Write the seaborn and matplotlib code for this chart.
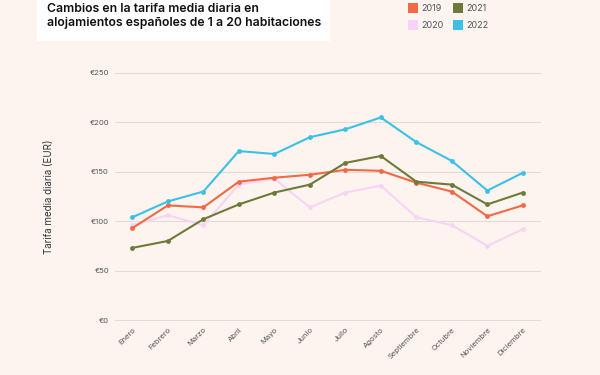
import pandas as pd
import numpy as np
import seaborn as sns
import matplotlib.pyplot as plt
from matplotlib.patches import Rectangle
from matplotlib.lines import Line2D

# Data (average daily rate, EUR)
months = ["Enero", "Febrero", "Marzo", "Abril", "Mayo", "Junio", "Julio",
          "Agosto", "Septiembre", "Octubre", "Noviembre", "Diciembre"]
rate_2019 = [93, 116, 114, 140, 144, 147, 152, 151, 139, 130, 105, 116]
rate_2020 = [96, 106, 96, 137, 143, 114, 129, 136, 104, 96, 75, 92]
rate_2021 = [73, 80, 102, 117, 129, 137, 159, 166, 140, 137, 117, 129]
rate_2022 = [104, 120, 130, 171, 168, 185, 193, 205, 180, 161, 131, 149]
years = ["2019", "2020", "2021", "2022"]
y_ticks = [0, 50, 100, 150, 200, 250]

colors = {"2019": "#F26A45", "2020": "#F7D4F5", "2021": "#6E7A3A", "2022": "#3CC0E6"}
bg = "#FDF4EF"

# long-form table for seaborn
frames = []
for yr, vals in zip(years, [rate_2019, rate_2020, rate_2021, rate_2022]):
    frames.append(pd.DataFrame({"Mes": months, "idx": range(12), "Tarifa": vals, "Año": yr}))
data = pd.concat(frames, ignore_index=True)

sns.set_style("white")
plt.rcParams['font.family'] = ['Inter', 'DejaVu Sans']

fig = plt.figure(figsize=(6, 3.75), dpi=100)
fig.patch.set_facecolor(bg)
# axes: y range -1..251 maps to px 321..72
ax = fig.add_axes([0.191, 1 - 321 / 375, 0.71, 249 / 375])
ax.set_facecolor(bg)

sns.lineplot(data=data, x="idx", y="Tarifa", hue="Año", palette=colors,
             hue_order=["2020", "2019", "2021", "2022"], linewidth=1.5,
             marker="o", markersize=3.5, markeredgewidth=0, legend=False, ax=ax)

ax.set_xlim(-0.5, 11.5)
ax.set_ylim(-1, 251)
ax.set_yticks(y_ticks)
ax.set_yticklabels([f"€{v}" for v in y_ticks], fontsize=5.5, color="#555555")
ax.set_xticks(range(12))
ax.set_xticklabels(months, rotation=45, ha="right", rotation_mode="anchor",
                   fontsize=5.5, color="#555555")
ax.tick_params(axis="both", length=0, pad=4)
ax.grid(axis="y", color="#E2DCD8", linewidth=0.8)
ax.set_axisbelow(True)
for s in ax.spines.values():
    s.set_visible(False)
ax.set_xlabel("")
ax.set_ylabel("")

fig.text(0.082, 0.475, "Tarifa media diaria (EUR)", rotation=90, ha="center",
         va="center", fontsize=7, color="#333333")

# title box
fig.patches.append(Rectangle((37 / 600, 1 - 41 / 375), 293 / 600, 41 / 375,
                             transform=fig.transFigure, facecolor="white",
                             edgecolor="none", zorder=0))
fig.text(47 / 600, 1 - 3 / 375,
         "Cambios en la tarifa media diaria en\nalojamientos españoles de 1 a 20 habitaciones",
         ha="left", va="top", fontsize=8.8, fontweight="semibold", color="#111111",
         linespacing=1.2)

# legend
handles = [Line2D([], [], marker="s", linestyle="none", markersize=7,
                  markerfacecolor=colors[y], markeredgewidth=0) for y in years]
fig.legend(handles, years, ncol=2, loc="upper left", bbox_to_anchor=(0.668, 1.01),
           frameon=False, fontsize=6.5, labelcolor="#555555", handletextpad=0.4,
           columnspacing=1.1, labelspacing=0.85, handlelength=1.0)

fig.savefig("out.png", dpi=100, facecolor=bg)
